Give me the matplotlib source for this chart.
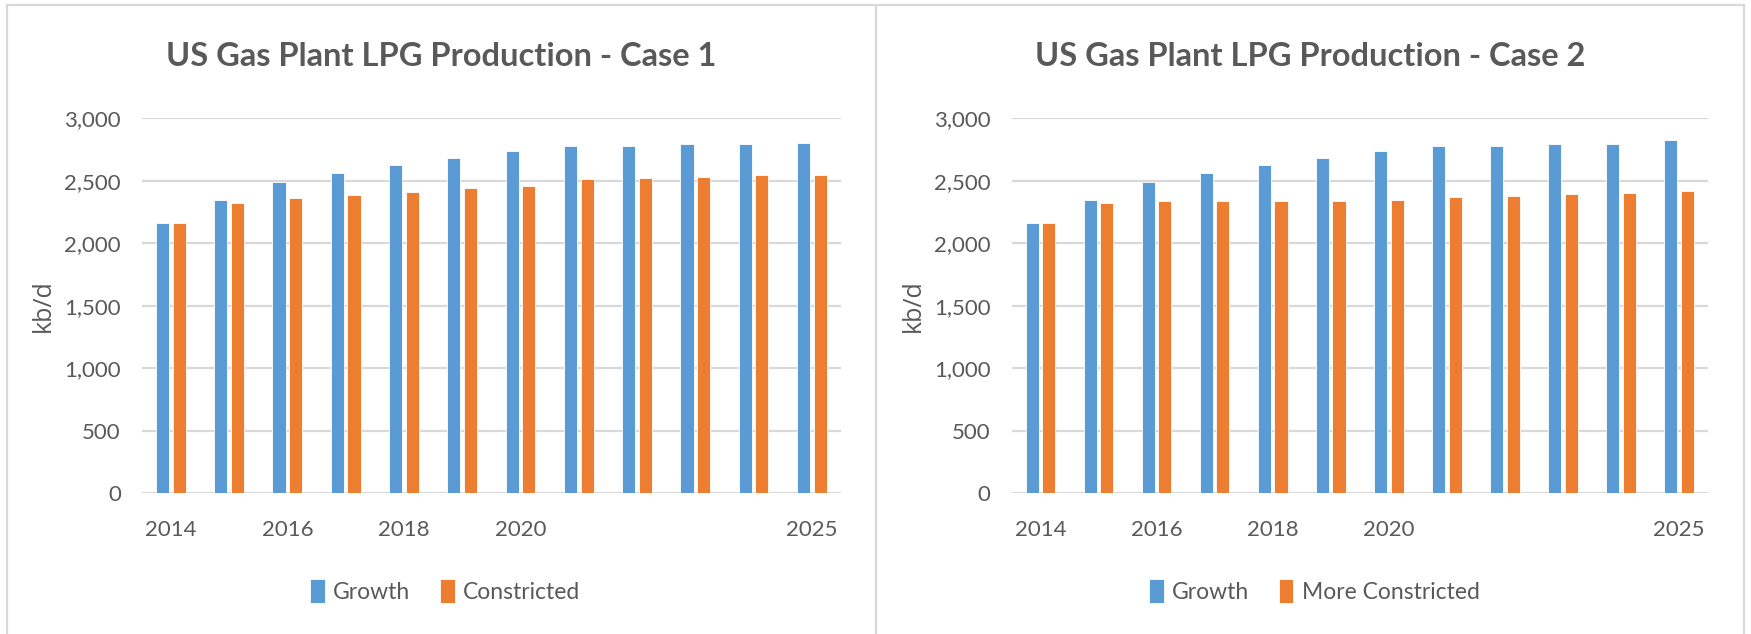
import numpy as np
import matplotlib
matplotlib.use("Agg")
import matplotlib.pyplot as plt
from matplotlib.lines import Line2D

# Données (kb/d)
annees = [2014, 2015, 2016, 2017, 2018, 2019, 2020, 2021, 2022, 2023, 2024, 2025]
etiquettes_x = ["2014", "", "2016", "", "2018", "", "2020", "", "", "", "", "2025"]

growth_1 = [2160, 2349, 2491, 2560, 2629, 2680, 2739, 2779, 2777, 2793, 2793, 2803]
constricted_1 = [2160, 2320, 2363, 2384, 2413, 2443, 2459, 2512, 2524, 2531, 2547, 2547]

growth_2 = [2160, 2349, 2491, 2560, 2629, 2680, 2739, 2779, 2777, 2793, 2793, 2825]
more_constricted_2 = [2160, 2320, 2339, 2339, 2339, 2339, 2349, 2369, 2375, 2398, 2405, 2421]

BLEU = "#5B9BD5"
ORANGE = "#ED7D31"
GRIS_TEXTE = "#595959"
GRIS_GRILLE = "#D9D9D9"

W, H = 1751, 634
fig = plt.figure(figsize=(W / 100, H / 100), dpi=100)
fig.patch.set_facecolor("white")

def px(x):
    return x / W

def py(y):
    return 1 - y / H


def tracer_panneau(rect, titre, serie_a, serie_b, label_b, centre_panneau, centre_legende):
    ax = fig.add_axes(rect)
    x = np.arange(len(annees))
    largeur = 0.225
    ax.bar(x - 0.143, serie_a, largeur, color=BLEU, edgecolor="white",
           linewidth=0.6, label="Growth", zorder=3)
    ax.bar(x + 0.143, serie_b, largeur, color=ORANGE, edgecolor="white",
           linewidth=0.6, label=label_b, zorder=3)

    ax.set_xlim(-0.5, len(annees) - 0.5)
    ax.set_ylim(0, 3000)
    ax.set_yticks(range(0, 3001, 500))
    ax.set_yticklabels([f"{v:,}" for v in range(0, 3001, 500)])
    ax.set_xticks(x)
    ax.set_xticklabels(etiquettes_x)

    for s in ax.spines.values():
        s.set_visible(False)
    ax.yaxis.grid(True, color=GRIS_GRILLE, linewidth=1.6, zorder=0)
    ax.set_axisbelow(True)
    ax.tick_params(axis="both", length=0, colors=GRIS_TEXTE, labelsize=16)
    ax.tick_params(axis="x", pad=19)
    ax.tick_params(axis="y", pad=15)
    for lab in ax.get_xticklabels() + ax.get_yticklabels():
        lab.set_fontfamily("Lato")

    ax.set_ylabel("kb/d", fontsize=18, color=GRIS_TEXTE, family="Open Sans", labelpad=6)

    fig.text(px(centre_panneau), py(57), titre, ha="center", va="center",
             fontsize=23.5, fontweight="bold", family="Lato", color=GRIS_TEXTE)

    leg = ax.legend(loc="center", bbox_to_anchor=(px(centre_legende), py(591)),
                    bbox_transform=fig.transFigure, ncol=2, frameon=False,
                    handlelength=0.65, handleheight=1.2, handletextpad=0.35,
                    columnspacing=1.3, prop={"family": "Lato", "size": 16.5})
    for t in leg.get_texts():
        t.set_color(GRIS_TEXTE)
    return ax


tracer_panneau([px(141.7), py(493.3), px(841) - px(141.7), py(118.3) - py(493.3)],
               "US Gas Plant LPG Production - Case 1", growth_1, constricted_1,
               "Constricted", 441, 445)
tracer_panneau([px(1011.5), py(493.3), px(1708) - px(1011.5), py(118.3) - py(493.3)],
               "US Gas Plant LPG Production - Case 2", growth_2, more_constricted_2,
               "More Constricted", 1310, 1314)

# Cadres des deux graphiques
for x0 in (7, 875.5, 1744):
    fig.add_artist(Line2D([px(x0), px(x0)], [py(5), py(640)], color=GRIS_GRILLE, linewidth=1.6))
fig.add_artist(Line2D([px(7), px(1744)], [py(5), py(5)], color=GRIS_GRILLE, linewidth=1.6))

fig.savefig("out.png", dpi=100, facecolor="white")
